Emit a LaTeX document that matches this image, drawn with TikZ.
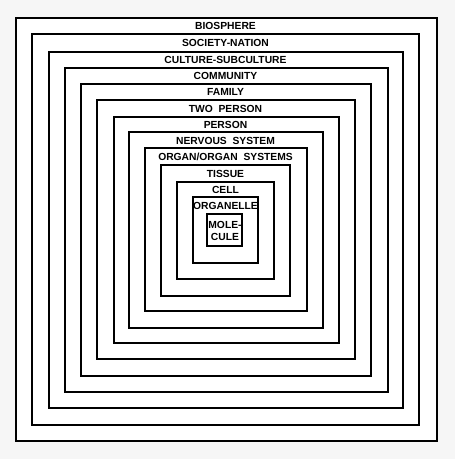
\documentclass[tikz,border=0pt]{standalone}
\usepackage{fontspec}
\setmainfont{Liberation Sans}
\usetikzlibrary{positioning}
\tikzstyle{level}=[draw,line width=1.2pt]
\tikzstyle{tag}=[inner sep=0pt,font=\bfseries\fontsize{10.3}{12}\selectfont,text centered]

\begin{document}
\begin{tikzpicture}[x=1pt,y=-1pt]

\fill[gray!7] (0,0) rectangle (455,459);
\useasboundingbox (0,0) rectangle (455,459);
\fill[white] (16,18) rectangle (437,441);

\foreach \l/\t/\r/\b/\ty/\name/\txt in {
  16/18/437/441/26/biosphere/BIOSPHERE,
  32/34/419/425/43/society/SOCIETY-NATION,
  49/52/403/408/60/culture/CULTURE-SUBCULTURE,
  65/68/388/392/76/community/COMMUNITY,
  81/84/371/376/92/family/FAMILY,
  97/100/355/359/108.5/twoperson/{TWO\ \ PERSON},
  114/117/339/343/124.5/person/PERSON,
  129/132/323/328/140.5/nervous/{NERVOUS\ \ SYSTEM},
  145/148/307/311/156.5/organ/{ORGAN/ORGAN\ \ SYSTEMS},
  161/165/290/296/173.5/tissue/TISSUE,
  177/182/274/279/189.5/cell/CELL,
  193/197/258/263/205.5/organelle/ORGANELLE} {
  \draw[level] (\l,\t) rectangle (\r,\b);
  \node[tag] (\name) at (225.5,\ty) {\txt};
}

\draw[level] (207,214) rectangle (242,246);
\node[tag,align=center] (molecule) at (225,230.5) {MOLE-\\CULE};

\end{tikzpicture}
\end{document}
